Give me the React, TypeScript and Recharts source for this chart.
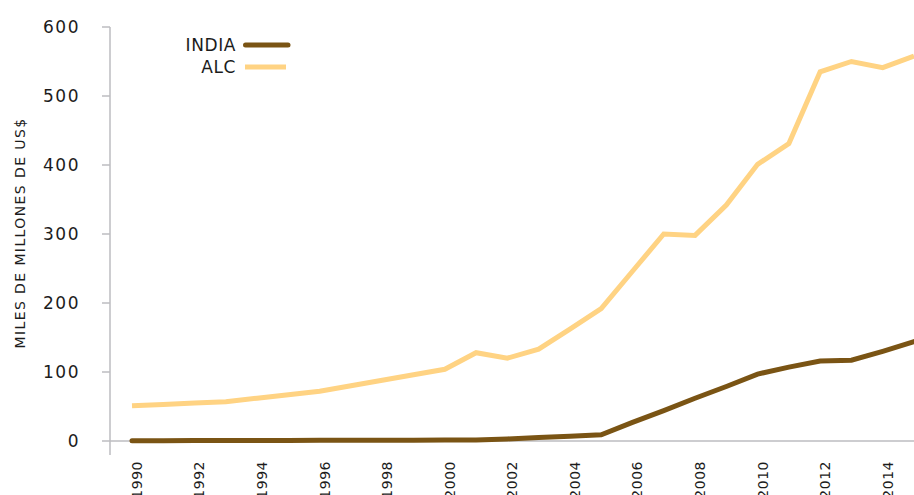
import {
  LineChart,
  Line,
  XAxis,
  YAxis,
  ReferenceLine,
  Legend,
  Label,
} from "recharts";

const years = [
  1990, 1991, 1992, 1993, 1994, 1995, 1996, 1997, 1998, 1999, 2000, 2001, 2002,
  2003, 2004, 2005, 2006, 2007, 2008, 2009, 2010, 2011, 2012, 2013, 2014, 2015,
];
const india = [
  0.5, 0.5, 0.6, 0.7, 0.8, 0.9, 1, 1, 1.1, 1.2, 1.3, 1.5, 3, 5, 7, 9, 27, 44,
  62, 79, 97, 107, 116, 117, 130, 144,
];
const alc = [
  51, 53, 55, 57, 62, 67, 72, 80, 88, 96, 104, 128, 120, 133, 162, 192, 246,
  300, 298, 342, 401, 431, 535, 550, 541, 558,
];
const xTicks = [
  1990, 1992, 1994, 1996, 1998, 2000, 2002, 2004, 2006, 2008, 2010, 2012, 2014,
];
const yTicks = [0, 100, 200, 300, 400, 500, 600];

const FONT = "'DejaVu Sans', sans-serif";
const TEXT = "#1c1c1c";
const GREY = "#bdbdc1";
const INDIA_COLOR = "#7a5414";
const ALC_COLOR = "#ffd383";

const data = years.map((year, i) => ({
  year,
  india: india[i],
  alc: alc[i],
}));

// rotated year labels, reading bottom to top, hanging under the axis
const YearTick = (props: any) => {
  const { x, y, payload } = props;
  return (
    <text
      x={x}
      y={y}
      transform={`rotate(-90 ${x} ${y})`}
      textAnchor="end"
      dy="0.71em"
      fontSize={14}
      letterSpacing={0.5}
      fontFamily={FONT}
      fill={TEXT}
    >
      {payload.value}
    </text>
  );
};

const legendItems = [
  { name: "INDIA", color: INDIA_COLOR, cap: "round" },
  { name: "ALC", color: ALC_COLOR, cap: "butt" },
];

const LegendBox = () => (
  <div style={{ fontFamily: FONT, fontSize: 17, color: TEXT, letterSpacing: 0.6 }}>
    {legendItems.map((it) => (
      <div
        key={it.name}
        style={{ display: "flex", alignItems: "center", height: 22 }}
      >
        <span style={{ width: 87, textAlign: "right" }}>{it.name}</span>
        <svg width={50} height={10} style={{ marginLeft: 7 }}>
          <line
            x1={it.cap === "round" ? 2.5 : 2}
            x2={it.cap === "round" ? 45 : 43}
            y1={5}
            y2={5}
            stroke={it.color}
            strokeWidth={5}
            strokeLinecap={it.cap as any}
          />
        </svg>
      </div>
    ))}
  </div>
);

export default function App() {
  return (
    <div
      style={{
        position: "absolute",
        left: 0,
        top: 0,
        width: 914,
        height: 495,
        background: "#fff",
        overflow: "hidden",
      }}
    >
      <LineChart
        width={914}
        height={495}
        data={data}
        margin={{ top: 27, right: 0, bottom: 0, left: 0 }}
      >
        <XAxis
          dataKey="year"
          type="number"
          domain={[1990, 2015]}
          ticks={xTicks}
          axisLine={false}
          tickLine={false}
          tickMargin={0}
          padding={{ left: 22, right: 0 }}
          height={40}
          tick={<YearTick />}
          interval={0}
        />
        <YAxis
          domain={[0, 600]}
          ticks={yTicks}
          width={110}
          padding={{ top: 0, bottom: 14 }}
          axisLine={{ stroke: GREY, strokeWidth: 1.5 }}
          tickLine={{ stroke: GREY, strokeWidth: 1.5 }}
          tickSize={8}
          tickMargin={22}
          tick={{ fill: TEXT, fontSize: 17, fontFamily: FONT, letterSpacing: 1.5 }}
          interval={0}
        >
          <Label
            content={() => (
              <text
                x={20}
                y={233}
                transform="rotate(-90 20 233)"
                textAnchor="middle"
                dominantBaseline="central"
                fontSize={14}
                letterSpacing={1.4}
                fontFamily={FONT}
                fill={TEXT}
              >
                MILES DE MILLONES DE US$
              </text>
            )}
          />
        </YAxis>
        <ReferenceLine y={0} stroke={GREY} strokeWidth={1.5} />
        <Legend
          layout="vertical"
          align="center"
          verticalAlign="middle"
          content={<LegendBox />}
          wrapperStyle={{ left: 149, top: 34, width: 160 }}
        />
        <Line
          type="linear"
          dataKey="alc"
          name="ALC"
          stroke={ALC_COLOR}
          strokeWidth={5}
          dot={false}
          isAnimationActive={false}
        />
        <Line
          type="linear"
          dataKey="india"
          name="INDIA"
          stroke={INDIA_COLOR}
          strokeWidth={5}
          strokeLinecap="round"
          dot={false}
          isAnimationActive={false}
        />
      </LineChart>
    </div>
  );
}
